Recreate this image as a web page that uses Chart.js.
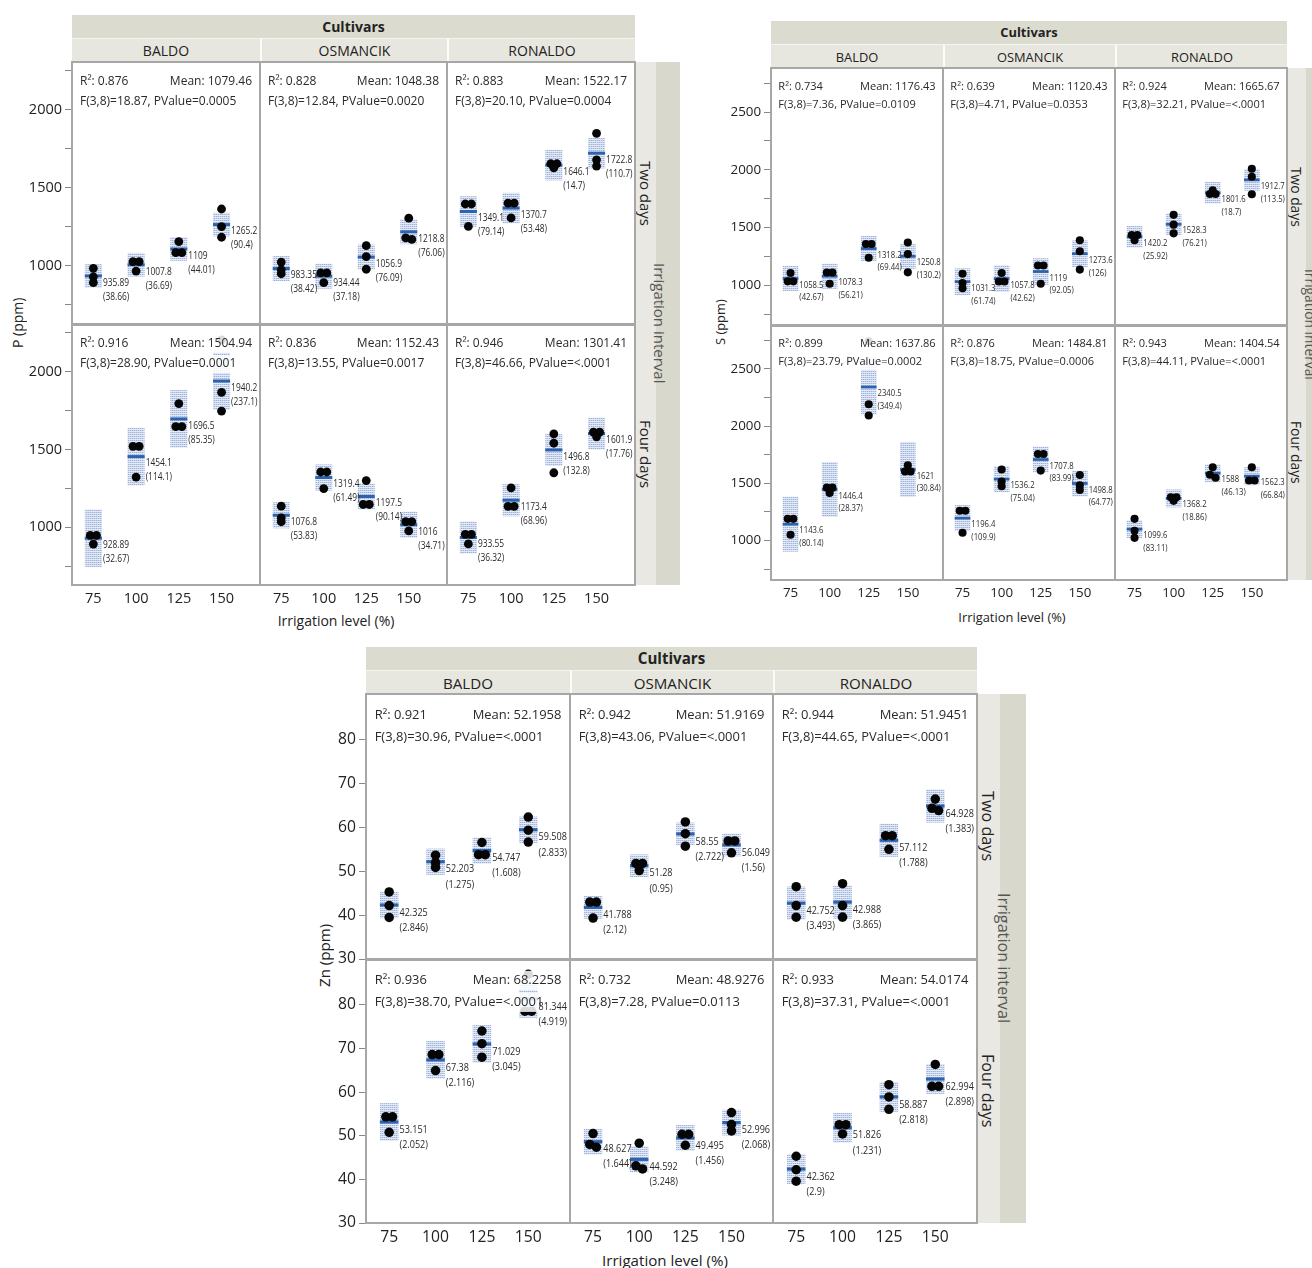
<!DOCTYPE html>
<html>
<head>
<meta charset="utf-8">
<script src="https://cdn.jsdelivr.net/npm/chart.js@4.4.0/dist/chart.umd.min.js"></script>
<style>
  body { margin: 0; background: #fff; font-family: "Open Sans", sans-serif; color: #222; }
  #page { position: relative; width: 1312px; height: 1268px; overflow: hidden; }
</style>
</head>
<body>
<div id="page"></div>
<script>
// categories
const levels = [75, 100, 125, 150];
const cultivars = ['BALDO', 'OSMANCIK', 'RONALDO'];
const intervals = ['Two days', 'Four days'];

// P (ppm) -- order of inner arrays: BALDO, OSMANCIK, RONALDO
const pRange = [628, 2307];
const pTicks = [750, 1000, 1250, 1500, 1750, 2000, 2250];
const pMeanTwo = [[935.89, 1007.8, 1109, 1265.2], [983.35, 934.44, 1056.9, 1218.8], [1349.1, 1370.7, 1646.1, 1722.8]];
const pSdTwo = [[38.66, 36.69, 44.01, 90.4], [38.42, 37.18, 76.09, 76.06], [79.14, 53.48, 14.7, 110.7]];
const pObsTwo = [
  [[985, 930, 893], [1028, 1028, 967], [1156, 1085, 1085], [1365, 1252, 1184]],
  [[1025, 975, 950], [955, 955, 893], [1130, 1060, 979], [1306, 1180, 1170]],
  [[1397, 1397, 1253], [1402, 1402, 1308], [1655, 1655, 1629], [1850, 1680, 1640]]
];
const pCiTwo = [75.8, 80.0, 97.8];
const pStatTwo = [['0.876', '1079.46', '18.87', '0.0005'], ['0.828', '1048.38', '12.84', '0.0020'], ['0.883', '1522.17', '20.10', '0.0004']];
const pMeanFour = [[928.89, 1454.1, 1696.5, 1940.2], [1076.8, 1319.4, 1197.5, 1016], [933.55, 1173.4, 1496.8, 1601.9]];
const pSdFour = [[32.67, 114.1, 85.35, 237.1], [53.83, 61.49, 90.14, 34.71], [36.32, 68.96, 132.8, 17.76]];
const pObsFour = [
  [[947, 947, 891], [1520, 1520, 1322], [1795, 1647, 1647], [2205, 1867, 1747]],
  [[1135, 1060, 1035], [1355, 1355, 1248], [1300, 1146, 1146], [1036, 1036, 976]],
  [[954, 954, 892], [1253, 1134, 1134], [1600, 1540, 1350], [1612, 1612, 1581]]
];
const pCiFour = [185.4, 84.2, 103.2];
const pStatFour = [['0.916', '1504.94', '28.90', '0.0001'], ['0.836', '1152.43', '13.55', '0.0017'], ['0.946', '1301.41', '46.66', '<.0001']];

// S (ppm)
const sRange = [656, 2882];
const sTicks = [750, 1000, 1250, 1500, 1750, 2000, 2250, 2500, 2750];
const sMeanTwo = [[1058.5, 1078.3, 1318.2, 1250.8], [1031.3, 1057.8, 1119, 1273.6], [1420.2, 1528.3, 1801.6, 1912.7]];
const sSdTwo = [[42.67, 56.21, 69.44, 130.2], [61.74, 42.62, 92.05, 126], [25.92, 76.21, 18.7, 113.5]];
const sObsTwo = [
  [[1107, 1034, 1034], [1111, 1111, 1013], [1358, 1358, 1239], [1370, 1270, 1112]],
  [[1100, 1020, 974], [1107, 1033, 1033], [1172, 1172, 1013], [1390, 1295, 1136]],
  [[1435, 1435, 1390], [1610, 1525, 1450], [1823, 1791, 1791], [2010, 1940, 1788]]
];
const sCiTwo = [108.9, 115.3, 93.5];
const sStatTwo = [['0.734', '1176.43', '7.36', '0.0109'], ['0.639', '1120.43', '4.71', '0.0353'], ['0.924', '1665.67', '32.21', '<.0001']];
const sMeanFour = [[1143.6, 1446.4, 2340.5, 1621], [1196.4, 1536.2, 1707.8, 1498.8], [1099.6, 1368.2, 1588, 1562.3]];
const sSdFour = [[80.14, 28.37, 349.4, 30.84], [109.9, 75.04, 83.99, 64.77], [83.11, 18.86, 46.13, 66.84]];
const sObsFour = [
  [[1190, 1190, 1051], [1462, 1462, 1415], [2740, 2190, 2092], [1657, 1603, 1603]],
  [[1260, 1260, 1069], [1620, 1515, 1474], [1756, 1756, 1611], [1573, 1482, 1441]],
  [[1190, 1085, 1024], [1379, 1379, 1347], [1640, 1575, 1549], [1640, 1524, 1524]]
];
const sCiFour = [240.3, 113.3, 78.4];
const sStatFour = [['0.899', '1637.86', '23.79', '0.0002'], ['0.876', '1484.81', '18.75', '0.0006'], ['0.943', '1404.54', '44.11', '<.0001']];

// Zn (ppm)
const znRange = [30, 90.5];
const znTicks = [30, 40, 50, 60, 70, 80];
const znMeanTwo = [[42.325, 52.203, 54.747, 59.508], [41.788, 51.28, 58.55, 56.049], [42.752, 42.988, 57.112, 64.928]];
const znSdTwo = [[2.846, 1.275, 1.608, 2.833], [2.12, 0.95, 2.722, 1.56], [3.493, 3.865, 1.788, 1.383]];
const znObsTwo = [
  [[45.3, 42.2, 39.5], [53.7, 52.0, 50.9], [56.6, 53.82, 53.82], [62.4, 59.4, 56.7]],
  [[43.0, 43.0, 39.35], [51.83, 51.83, 50.18], [61.3, 58.6, 55.75], [56.95, 56.95, 54.25]],
  [[46.5, 42.2, 39.55], [47.2, 42.2, 39.56], [58.15, 58.15, 55.05], [66.5, 64.4, 63.88]]
];
const znCiTwo = [3.0, 2.6, 3.78];
const znStatTwo = [['0.921', '52.1958', '30.96', '<.0001'], ['0.942', '51.9169', '43.06', '<.0001'], ['0.944', '51.9451', '44.65', '<.0001']];
const znMeanFour = [[53.151, 67.38, 71.029, 81.344], [48.627, 44.592, 49.495, 52.996], [42.362, 51.826, 58.887, 62.994]];
const znSdFour = [[2.052, 2.116, 3.045, 4.919], [1.644, 3.248, 1.456, 2.068], [2.9, 1.231, 2.818, 2.898]];
const znObsFour = [
  [[54.34, 54.34, 50.78], [68.6, 68.6, 64.94], [74.0, 71.1, 68.0], [86.98, 78.53, 78.53]],
  [[50.5, 48.0, 47.38], [48.3, 43.1, 42.38], [50.34, 50.34, 47.82], [55.3, 52.6, 51.09]],
  [[45.3, 42.2, 39.59], [52.54, 52.54, 50.41], [61.7, 58.9, 56.06], [66.34, 61.32, 61.32]]
];
const znCiFour = [4.32, 2.95, 3.41];
const znStatFour = [['0.936', '68.2258', '38.70', '<.0001'], ['0.732', '48.9276', '7.28', '0.0113'], ['0.933', '54.0174', '37.31', '<.0001']];

const page = document.getElementById('page');
Chart.defaults.font.family = '"Open Sans", sans-serif';
Chart.defaults.color = '#222';

const boxHalf = 5;   // half width of the shaded box, x units
const jitter = 3.6;  // side by side spacing of equal points, x units

// dotted light blue fill of the boxes
const tile = document.createElement('canvas');
tile.width = 2; tile.height = 2;
const tc = tile.getContext('2d');
tc.fillStyle = '#e4eaf5'; tc.fillRect(0, 0, 2, 2);
tc.fillStyle = '#9db3da'; tc.fillRect(0, 0, 1, 1);
tc.fillStyle = '#c6d3ea'; tc.fillRect(1, 0, 1, 1);

// panel placement on the page
const panels = [
  { L: 72, R: 635, T: 62, M: 324, B: 585, k: 1, range: pRange, ticks: pTicks, major: 500,
    title: 'P (ppm)', yt: [17, 323], xt: [336, 620],
    rows: [{ mean: pMeanTwo, sd: pSdTwo, obs: pObsTwo, ci: pCiTwo, stat: pStatTwo },
           { mean: pMeanFour, sd: pSdFour, obs: pObsFour, ci: pCiFour, stat: pStatFour }] },
  { L: 771, R: 1287, T: 68, M: 325, B: 580, k: 0.92, range: sRange, ticks: sTicks, major: 500,
    title: 'S (ppm)', yt: [720, 322], xt: [1012, 617],
    rows: [{ mean: sMeanTwo, sd: sSdTwo, obs: sObsTwo, ci: sCiTwo, stat: sStatTwo },
           { mean: sMeanFour, sd: sSdFour, obs: sObsFour, ci: sCiFour, stat: sStatFour }] },
  { L: 366, R: 977, T: 694, M: 959, B: 1223, k: 1.08, range: znRange, ticks: znTicks, major: 10,
    title: 'Zn (ppm)', yt: [324, 955], xt: [665, 1260],
    rows: [{ mean: znMeanTwo, sd: znSdTwo, obs: znObsTwo, ci: znCiTwo, stat: znStatTwo },
           { mean: znMeanFour, sd: znSdFour, obs: znObsFour, ci: znCiFour, stat: znStatFour }] }
];

function box(x, y, w, h, css, text) {
  const d = document.createElement('div');
  d.style.cssText = 'position:absolute;left:' + x + 'px;top:' + y + 'px;width:' + w + 'px;height:' + h + 'px;' + css;
  if (text) d.textContent = text;
  page.appendChild(d);
  return d;
}

// narrow text: the value labels are condensed in the figure
function narrowText(ctx, t, x, y, sx) {
  ctx.save();
  ctx.translate(x, y);
  ctx.scale(sx, 1);
  ctx.fillText(t, 0, 0);
  ctx.restore();
}

function facetPlugin(p, means, sds, ci, st) {
  const k = p.k;
  return {
    id: 'facet',
    beforeDatasetsDraw(chart) {
      const { ctx, chartArea: a, scales: { x, y } } = chart;
      ctx.save();
      ctx.beginPath();
      ctx.rect(a.left, a.top, a.right - a.left, a.bottom - a.top);
      ctx.clip();
      const pat = ctx.createPattern(tile, 'repeat');
      levels.forEach((lv, i) => {
        const x0 = x.getPixelForValue(lv - boxHalf), x1 = x.getPixelForValue(lv + boxHalf);
        const y0 = y.getPixelForValue(means[i] + ci), y1 = y.getPixelForValue(means[i] - ci);
        ctx.fillStyle = pat;
        ctx.fillRect(x0, y0, x1 - x0, y1 - y0);
        const ym = y.getPixelForValue(means[i]);
        ctx.fillStyle = '#2c63b0';
        ctx.fillRect(x0, ym - 1.5 * k, x1 - x0, 3 * k);
      });
      ctx.restore();
    },
    afterDatasetsDraw(chart) {
      const { ctx, chartArea: a, scales: { x, y } } = chart;
      ctx.save();
      ctx.font = (12 * k) + 'px "Open Sans"';
      ctx.textBaseline = 'middle';
      const y1 = a.top + 20 * k, y2 = a.top + 40 * k;
      const items = [
        ['R\u00b2: ' + st[0], a.left + 8 * k, y1, 'left'],
        ['Mean: ' + st[1], a.right - 8 * k, y1, 'right'],
        ['F(3,8)=' + st[2] + ', PValue=' + st[3], a.left + 8 * k, y2, 'left']
      ];
      items.forEach(([t, tx, ty, al]) => {
        const w = ctx.measureText(t).width;
        const x0 = al === 'left' ? tx - 2 : tx - w - 2;
        ctx.fillStyle = 'rgba(255,255,255,0.85)';
        ctx.fillRect(x0, ty - 9 * k, w + 4, 18 * k);
      });
      ctx.fillStyle = '#2a2a2a';
      items.forEach(([t, tx, ty, al]) => { ctx.textAlign = al; ctx.fillText(t, tx, ty); });

      ctx.font = (10 * k) + 'px "Open Sans"';
      ctx.textAlign = 'left';
      ctx.fillStyle = '#2a2a2a';
      levels.forEach((lv, i) => {
        const xl = x.getPixelForValue(lv + boxHalf) + 1;
        const ym = y.getPixelForValue(means[i]);
        narrowText(ctx, String(means[i]), xl, ym + 7 * k, 0.84);
        narrowText(ctx, '(' + sds[i] + ')', xl, ym + 21 * k, 0.84);
      });
      ctx.restore();
    }
  };
}

function facet(p, r, c) {
  const W = (p.R - p.L) / 3;
  const cl = Math.round(p.L + c * W), cr = Math.round(p.L + (c + 1) * W);
  const ct = r ? p.M : p.T, cb = r ? p.B : p.M;
  const pad = 14, axW = c ? 0 : 70, axH = r ? 34 : 0;
  const cv = document.createElement('canvas');
  cv.width = cr - cl + axW;
  cv.height = cb - ct + 2 * pad + axH;
  cv.style.cssText = 'position:absolute;left:' + (cl - axW) + 'px;top:' + (ct - pad) + 'px;z-index:1';
  page.appendChild(cv);

  const d = p.rows[r];
  const means = d.mean[c], sds = d.sd[c], obs = d.obs[c], ci = d.ci[c], st = d.stat[c];
  const k = p.k, thr = 0.012 * (p.range[1] - p.range[0]);

  // equal values sit side by side, the rest stay on the category
  const pts = [];
  levels.forEach((lv, i) => {
    const vals = obs[i].slice().sort((a, b) => b - a);
    const groups = [[vals[0]]];
    for (let j = 1; j < vals.length; j++) {
      const g = groups[groups.length - 1];
      if (Math.abs(vals[j] - g[g.length - 1]) < thr) g.push(vals[j]);
      else groups.push([vals[j]]);
    }
    groups.forEach(g => g.forEach((v, j) => pts.push({ x: lv + (j - (g.length - 1) / 2) * jitter, y: v })));
  });

  new Chart(cv, {
    type: 'scatter',
    data: {
      datasets: [{
        data: pts,
        pointRadius: 4.4 * k,
        pointHoverRadius: 4.4 * k,
        pointBackgroundColor: '#050505',
        pointBorderWidth: 0
      }]
    },
    options: {
      responsive: false,
      animation: false,
      events: [],
      devicePixelRatio: 1,
      layout: { padding: { top: pad, bottom: pad, left: 0, right: 0 }, autoPadding: false },
      plugins: { legend: { display: false }, tooltip: { enabled: false } },
      scales: {
        x: {
          type: 'linear', min: 62.5, max: 172.5, display: r === 1,
          afterBuildTicks: s => { s.ticks = levels.map(v => ({ value: v })); },
          afterFit: s => { s.height = axH; },
          grid: { display: false, drawTicks: false }, border: { display: false },
          ticks: { font: { size: 14.5 * k }, color: '#222', padding: 5, maxRotation: 0, autoSkip: false }
        },
        y: {
          type: 'linear', min: p.range[0], max: p.range[1], display: c === 0,
          afterBuildTicks: s => { s.ticks = p.ticks.map(v => ({ value: v })); },
          afterFit: s => { s.width = axW; },
          grid: { drawOnChartArea: false, drawTicks: true, tickLength: 7, color: '#888', lineWidth: 1 },
          border: { display: false },
          ticks: {
            font: { size: 14.5 * k }, color: '#222', padding: 3, autoSkip: false,
            callback: v => (v % p.major === 0 ? String(v) : '')
          }
        }
      }
    },
    plugins: [facetPlugin(p, means, sds, ci, st)]
  });
}

function frame(p) {
  const k = p.k, W = (p.R - p.L) / 3;
  const fs = 14 * k;
  const center = 'display:flex;align-items:center;justify-content:center;';
  box(p.L, p.T - 47.5, p.R - p.L, 23.5, 'background:#dcdbcf;' + center + 'font-weight:bold;font-size:' + fs + 'px', 'Cultivars');
  cultivars.forEach((name, c) => {
    const x0 = Math.round(p.L + c * W), x1 = Math.round(p.L + (c + 1) * W);
    box(x0, p.T - 24, x1 - x0, 24, 'background:#e8e7df;box-sizing:border-box;border-top:1px solid #f4f4f0;' +
      (c ? 'border-left:2px solid #fbfbf9;' : '') + center + 'font-size:' + fs + 'px', name);
  });

  const lb = 21 * k, db = 24 * k;
  box(p.R, p.T, lb, p.B - p.T, 'background:#e9e8e2');
  box(p.R + lb, p.T, db, p.B - p.T, 'background:#d9d8cc');
  intervals.forEach((name, r) => {
    const t = r ? p.M : p.T, b = r ? p.B : p.M;
    box(p.R, t, lb, b - t, center + 'writing-mode:vertical-rl;font-size:' + (15 * k) + 'px;color:#222', name);
  });
  box(p.R + 13 * k, p.T, 24 * k, p.B - p.T, center + 'writing-mode:vertical-rl;font-size:' + (15 * k) + 'px;color:#555', 'Irrigation interval');

  box(p.yt[0] - 12, p.yt[1] - 100, 24, 200, center + 'writing-mode:vertical-rl;transform:rotate(180deg);font-size:' + fs + 'px', p.title);
  box(p.xt[0] - 150, p.xt[1] - 11, 300, 22, center + 'font-size:' + fs + 'px', 'Irrigation level (%)');

  const fc = '#a7a7a7';
  box(p.L - 1, p.T - 1, p.R - p.L + 2, p.B - p.T + 2, 'border:2px solid ' + fc + ';box-sizing:border-box;z-index:2');
  for (let c = 1; c < 3; c++) {
    box(Math.round(p.L + c * W) - 1, p.T, 2, p.B - p.T, 'background:' + fc + ';z-index:2');
  }
  box(p.L, p.M - 1.5, p.R - p.L, 3, 'background:' + fc + ';z-index:2');
}

panels.forEach(p => {
  for (let r = 0; r < 2; r++) for (let c = 0; c < 3; c++) facet(p, r, c);
  frame(p);
});
</script>
</body>
</html>
